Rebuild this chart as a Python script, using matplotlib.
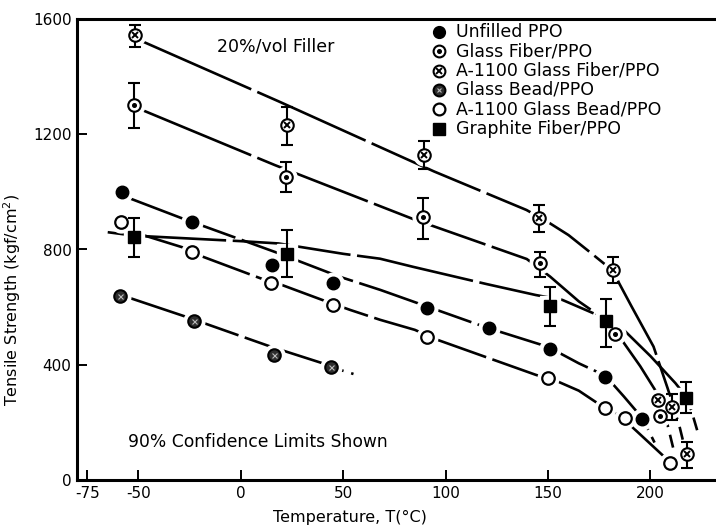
import numpy as np
import matplotlib
matplotlib.use("Agg")
import matplotlib.pyplot as plt

plt.rcParams['font.family'] = ['DejaVu Sans']

# ---------------- data ----------------
unf_T = [-58, -24, 15, 45, 91, 121, 151, 178, 196]
unf_S = [1000, 897, 747, 682, 598, 526, 456, 357, 212]

gf_T = [-52, 22, 89, 146, 182.5, 204.5]
gf_S = [1303, 1052, 912, 752, 508, 221]
gf_lo = [1221, 1000, 837, 706, np.nan, np.nan]
gf_hi = [1378, 1102, 980, 793, np.nan, np.nan]

agf_T = [-51.5, 22.7, 89.3, 145.4, 181.6, 203.6, 210.5, 217.7]
agf_S = [1544, 1233, 1128, 909, 728, 277, 254, 91]
agf_lo = [1503, 1161, 1081, 862, 685, np.nan, 207, 40]
agf_hi = [1580, 1296, 1177, 953, 773, np.nan, 297, 133]

gb_T = [-59, -23, 16, 44]
gb_S = [639, 553, 435, 392]

agb_T = [-58.6, -24, 14.5, 45, 91, 150, 177.6, 187.7, 209.5]
agb_S = [895, 790, 682, 609, 496, 355, 250, 216, 60]

gr_T = [-52, 22.7, 151, 178.5, 217.3]
gr_S = [842, 784, 604, 551, 285]
gr_lo = [773, 706, 534, 461, 233]
gr_hi = [909, 868, 671, 629, 341]

# hand-drawn trend curves
unf_fit_T = [-57, -29, 18, 48, 68, 91, 120, 150, 165, 178, 187, 196]
unf_fit_S = [985, 909, 788, 706, 660, 602, 529, 462, 405, 362, 290, 215]
unf_tail_T = [196, 202]
unf_tail_S = [215, 130]

gf_fit_T = [-48.5, 16.6, 84, 139.6, 151, 165, 178, 183, 186, 195, 202.3, 204.5]
gf_fit_S = [1285, 1093, 906, 767, 706, 620, 556, 512, 486, 395, 312, 240]
gf_tail_T = [205, 208.4, 212.5]
gf_tail_S = [221, 190, 70]

agf_fit_T = [-48, 18.5, 58.4, 94.3, 139.5, 150, 160, 169, 177, 182, 184.7, 190.8, 201.5, 208.4, 211]
agf_fit_S = [1522, 1314, 1186, 1071, 937, 895, 850, 799, 753, 725, 683, 602, 463, 318, 260]
agf_tail_T = [211, 213.8, 216, 217.7]
agf_tail_S = [254, 197, 133, 95]

gb_fit_T = [-56, -27, 14.5, 40, 44]
gb_fit_S = [636, 567, 463, 405, 392]
gb_tail_T = [44, 55]
gb_tail_S = [392, 368]

agb_fit_T = [-50, -24.6, -19.7, 9.6, 20, 42, 53.5, 68, 85, 95, 144, 155, 165, 173, 177, 182, 187.5, 190, 207.6, 209.5]
agb_fit_S = [855, 799, 778, 700, 677, 619, 590, 556, 521, 489, 365, 341, 310, 272, 255, 235, 218, 191, 75, 61]

gr_fit_T = [-65, -52, 0, 18.4, 50, 68, 84, 120, 144, 157, 174, 178.5, 187.8, 200, 212.2, 217.3]
gr_fit_S = [860, 848, 829, 821, 785, 768, 740, 680, 642, 625, 573, 556, 515, 430, 336, 290]
gr_tail_T = [217.3, 219.9, 223]
gr_tail_S = [285, 243, 168]

labels = ["Unfilled PPO", "Glass Fiber/PPO", "A-1100 Glass Fiber/PPO",
          "Glass Bead/PPO", "A-1100 Glass Bead/PPO", "Graphite Fiber/PPO"]

x_ticks = [-75, -50, 0, 50, 100, 150, 200]
y_ticks = [0, 400, 800, 1200, 1600]

# ---------------- figure ----------------
W, H = 716, 526
fig = plt.figure(figsize=(W / 100, H / 100), dpi=100)
ax = fig.add_axes([77 / W, 46 / H, 1 - 77 / W, 461 / H])
ax.set_xlim(-80, 232)
ax.set_ylim(0, 1600)

LW = 1.9
MAIN = (0, (45, 2.5))
TAIL = (0, (5, 3))
MS = 9


def curve(tx, ty, ls=MAIN):
    ax.plot(tx, ty, color='black', lw=LW, ls=ls, zorder=2, solid_capstyle='butt',
            dash_capstyle='butt', solid_joinstyle='round', dash_joinstyle='round')


for fx_, fy_ in [(unf_fit_T, unf_fit_S), (gf_fit_T, gf_fit_S), (agf_fit_T, agf_fit_S),
                 (gb_fit_T, gb_fit_S), (agb_fit_T, agb_fit_S), (gr_fit_T, gr_fit_S)]:
    curve(fx_, fy_)
for fx_, fy_ in [(unf_tail_T, unf_tail_S), (gf_tail_T, gf_tail_S), (agf_tail_T, agf_tail_S),
                 (gb_tail_T, gb_tail_S), (gr_tail_T, gr_tail_S)]:
    curve(fx_, fy_, TAIL)


def halo(x, y, marker='o'):
    ax.plot(x, y, ls='none', marker=marker, ms=MS + 6, mfc='white', mec='white', zorder=3)


def errbars(x, y, lo, hi):
    y = np.asarray(y, float)
    lo = np.asarray(lo, float)
    hi = np.asarray(hi, float)
    m = ~np.isnan(lo)
    x = np.asarray(x, float)[m]
    ax.errorbar(x, y[m], yerr=[y[m] - lo[m], hi[m] - y[m]], fmt='none', ecolor='black',
                elinewidth=1.5, capsize=4.5, capthick=1.5, zorder=4)


def mk_unfilled(x, y, ms=MS, **kw):
    return [ax.plot(x, y, ls='none', marker='o', ms=ms, mfc='black', mec='black', zorder=5, **kw)[0]]


def mk_gf(x, y, ms=MS, **kw):
    a = ax.plot(x, y, ls='none', marker='o', ms=ms, mfc='white', mec='black', mew=1.5, zorder=5, **kw)[0]
    b = ax.plot(x, y, ls='none', marker='o', ms=2.6, mfc='black', mec='black', zorder=6, **kw)[0]
    return [a, b]


def mk_agf(x, y, ms=MS, **kw):
    a = ax.plot(x, y, ls='none', marker='o', ms=ms, mfc='white', mec='black', mew=1.5, zorder=5, **kw)[0]
    b = ax.plot(x, y, ls='none', marker='x', ms=ms * 0.55, mec='black', mew=1.4, zorder=6, **kw)[0]
    return [a, b]


def mk_gb(x, y, ms=MS, **kw):
    a = ax.plot(x, y, ls='none', marker='o', ms=ms, mfc='#2e2e2e', mec='black', mew=1.5, zorder=5, **kw)[0]
    b = ax.plot(x, y, ls='none', marker='x', ms=ms * 0.4, mec='#bbbbbb', mew=0.8, zorder=6, **kw)[0]
    return [a, b]


def mk_agb(x, y, ms=MS, **kw):
    return [ax.plot(x, y, ls='none', marker='o', ms=ms, mfc='white', mec='black', mew=1.6, zorder=5, **kw)[0]]


def mk_gr(x, y, ms=MS, **kw):
    return [ax.plot(x, y, ls='none', marker='s', ms=ms * 0.95, mfc='black', mec='black', zorder=5, **kw)[0]]


series = [(unf_T, unf_S, mk_unfilled, 'o'), (gf_T, gf_S, mk_gf, 'o'), (agf_T, agf_S, mk_agf, 'o'),
          (gb_T, gb_S, mk_gb, 'o'), (agb_T, agb_S, mk_agb, 'o'), (gr_T, gr_S, mk_gr, 's')]
for x, y, fn, m in series:
    halo(x, y, m)

errbars(gf_T, gf_S, gf_lo, gf_hi)
errbars(agf_T, agf_S, agf_lo, agf_hi)
errbars(gr_T, gr_S, gr_lo, gr_hi)

for x, y, fn, m in series:
    fn(x, y)

# ---------------- legend (drawn in axes fraction) ----------------
def fx(px):
    return (px - 77) / 639


def fy(py):
    return (480 - py) / 461


for i, (lab, s) in enumerate(zip(labels, series)):
    py = 32 + 19.3 * i
    s[2]([fx(439)], [fy(py)], ms=8.5, transform=ax.transAxes, clip_on=False)
    ax.text(fx(456), fy(py), lab, transform=ax.transAxes, fontsize=12.5, va='center', ha='left')

# ---------------- annotations ----------------
ax.text(-11.5, 1503, "20%/vol Filler", fontsize=12.5, va='center', ha='left')
ax.text(-55, 133, "90% Confidence Limits Shown", fontsize=12.3, va='center', ha='left')

# ---------------- axes styling ----------------
for side in ['left', 'bottom', 'top']:
    ax.spines[side].set_linewidth(2.2)
ax.spines['right'].set_visible(False)
ax.set_xticks(x_ticks)
ax.set_yticks(y_ticks)
ax.set_xticklabels([str(t) for t in x_ticks])
ax.set_yticklabels([str(t) for t in y_ticks])
ax.tick_params(direction='in', length=7, width=1.4, labelsize=11, pad=4)
ax.tick_params(axis='y', pad=4)

ax.set_xlabel("Temperature, T(°C)", fontsize=11.5)
ax.xaxis.set_label_coords(0.427, -0.065)
ax.set_ylabel("Tensile Strength (kgf/cm$^2$)", fontsize=11.5)
ax.yaxis.set_label_coords(-0.085, 0.39)

fig.savefig("out.png", dpi=100)
